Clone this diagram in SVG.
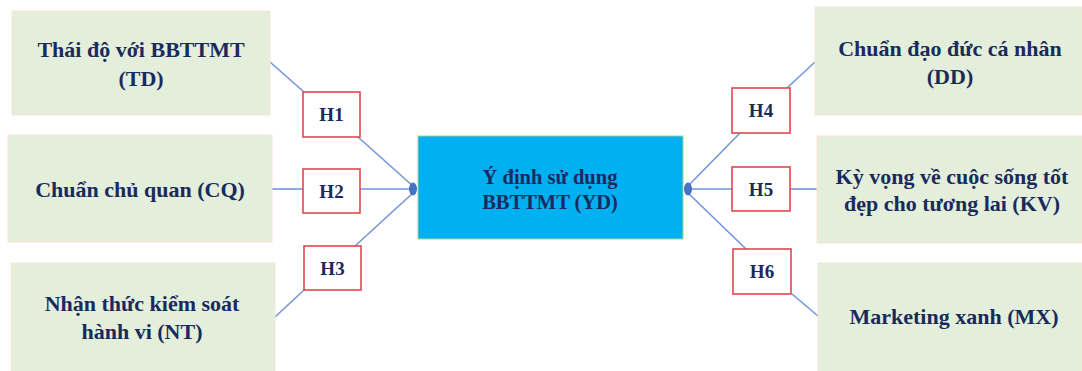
<svg xmlns="http://www.w3.org/2000/svg" width="1082" height="371" viewBox="0 0 1082 371">
  <style>
    .factor { fill: #E3EFDA; stroke: #FBE3D6; stroke-width: 1; }
    .center { fill: #00B0F0; stroke: #A9D18E; stroke-width: 1; }
    .hyp { fill: #FFFFFF; stroke: #E0484F; stroke-width: 1.6; }
    .link { fill: none; stroke: #7395DA; stroke-width: 1.6; }
    .lbl { font-family: "Liberation Serif", "Times New Roman", serif; font-weight: bold; fill: #1A2A5E; text-anchor: middle; }
    .big { font-size: 22px; }
    .mid { font-size: 20.5px; }
    .small { font-size: 19px; }
    .tip { fill: #4472C4; }
  </style>

  <rect width="1082" height="371" fill="#FFFFFF"/>

  <!-- connectors -->
  <g id="connectors">
    <line class="link" x1="270" y1="62" x2="304" y2="92"/>
    <line class="link" x1="358" y1="137" x2="414" y2="187"/>
    <line class="link" x1="272" y1="189" x2="303" y2="189"/>
    <line class="link" x1="360" y1="189" x2="414" y2="189"/>
    <line class="link" x1="275" y1="317" x2="304" y2="290"/>
    <line class="link" x1="355" y1="246" x2="414" y2="192"/>

    <line class="link" x1="815" y1="62" x2="787" y2="88"/>
    <line class="link" x1="740" y1="133" x2="687" y2="187"/>
    <line class="link" x1="817" y1="189" x2="790" y2="189"/>
    <line class="link" x1="732" y1="189" x2="687" y2="189"/>
    <line class="link" x1="818" y1="316" x2="792" y2="294"/>
    <line class="link" x1="746" y1="249" x2="687" y2="192"/>

    <ellipse class="tip" cx="413" cy="189" rx="4" ry="6.5"/>
    <ellipse class="tip" cx="688" cy="189" rx="4" ry="6.5"/>
  </g>

  <!-- left factors -->
  <g id="node-TD">
    <rect class="factor" x="12" y="11" width="258" height="104"/>
    <text class="lbl big" x="141" y="57">Thái độ với BBTTMT</text>
    <text class="lbl big" x="141" y="86">(TD)</text>
  </g>
  <g id="node-CQ">
    <rect class="factor" x="8" y="135" width="264" height="107"/>
    <text class="lbl big" x="140" y="197">Chuẩn chủ quan (CQ)</text>
  </g>
  <g id="node-NT">
    <rect class="factor" x="11" y="263" width="264" height="110"/>
    <text class="lbl big" x="142" y="311">Nhận thức kiểm soát</text>
    <text class="lbl big" x="142" y="339">hành vi (NT)</text>
  </g>

  <!-- outcome -->
  <g id="node-YD">
    <rect class="center" x="418" y="136" width="265" height="103"/>
    <text class="lbl mid" x="550" y="184">Ý định sử dụng</text>
    <text class="lbl mid" x="550" y="209">BBTTMT (YD)</text>
  </g>

  <!-- right factors -->
  <g id="node-DD">
    <rect class="factor" x="815" y="7" width="267" height="108"/>
    <text class="lbl big" x="950" y="56">Chuẩn đạo đức cá nhân</text>
    <text class="lbl big" x="950" y="84">(DD)</text>
  </g>
  <g id="node-KV">
    <rect class="factor" x="817" y="136" width="265" height="107"/>
    <text class="lbl big" x="952" y="184">Kỳ vọng về cuộc sống tốt</text>
    <text class="lbl big" x="952" y="211">đẹp cho tương lai (KV)</text>
  </g>
  <g id="node-MX">
    <rect class="factor" x="818" y="263" width="264" height="110"/>
    <text class="lbl big" x="954" y="324">Marketing xanh (MX)</text>
  </g>

  <!-- hypothesis labels -->
  <g id="node-H1">
    <rect class="hyp" x="303" y="92" width="57" height="45"/>
    <text class="lbl small" x="331.5" y="121">H1</text>
  </g>
  <g id="node-H2">
    <rect class="hyp" x="303" y="169" width="57" height="44"/>
    <text class="lbl small" x="331.5" y="198">H2</text>
  </g>
  <g id="node-H3">
    <rect class="hyp" x="304" y="246" width="57" height="44"/>
    <text class="lbl small" x="332.5" y="275">H3</text>
  </g>
  <g id="node-H4">
    <rect class="hyp" x="732" y="88" width="58" height="45"/>
    <text class="lbl small" x="761" y="117">H4</text>
  </g>
  <g id="node-H5">
    <rect class="hyp" x="732" y="167" width="58" height="44"/>
    <text class="lbl small" x="761" y="196">H5</text>
  </g>
  <g id="node-H6">
    <rect class="hyp" x="733" y="249" width="58" height="45"/>
    <text class="lbl small" x="762" y="278">H6</text>
  </g>
</svg>
